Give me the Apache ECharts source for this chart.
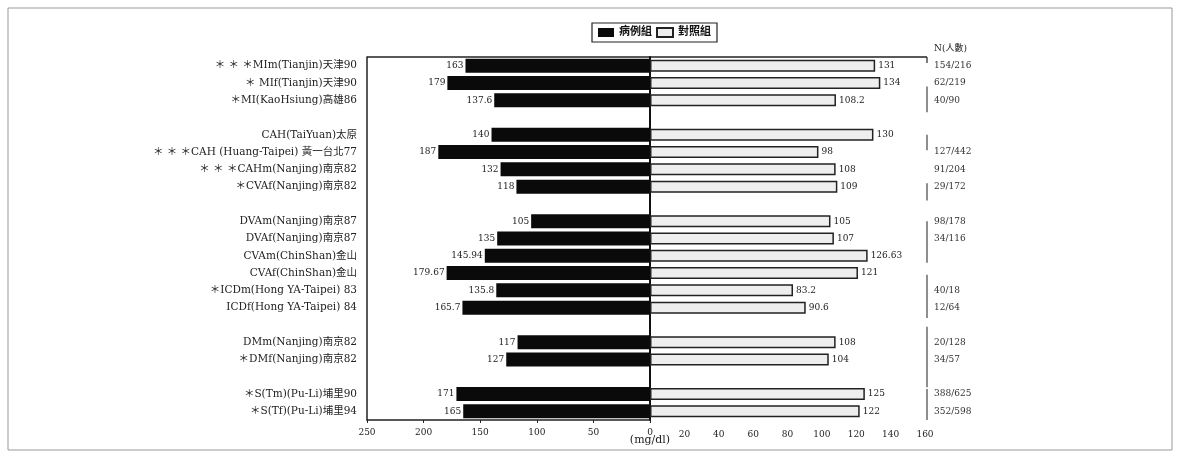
<!DOCTYPE html>
<html>
<head>
<meta charset="utf-8">
<script src="https://cdn.jsdelivr.net/npm/echarts@6/dist/echarts.min.js"></script>
<style>html,body{margin:0;padding:0;background:#fff}#c{width:1180px;height:455px}</style>
</head>
<body>
<div id="c"></div>
<script>
// ---- data ----
var categories = [
  '＊ ＊ ＊MIm(Tianjin)天津90', '＊ MIf(Tianjin)天津90', '＊MI(KaoHsiung)高雄86', '',
  'CAH(TaiYuan)太原', '＊ ＊ ＊CAH (Huang-Taipei) 黃一台北77', '＊ ＊ ＊CAHm(Nanjing)南京82', '＊CVAf(Nanjing)南京82', '',
  'DVAm(Nanjing)南京87', 'DVAf(Nanjing)南京87', 'CVAm(ChinShan)金山', 'CVAf(ChinShan)金山',
  '＊ICDm(Hong YA-Taipei) 83', 'ICDf(Hong YA-Taipei) 84', '',
  'DMm(Nanjing)南京82', '＊DMf(Nanjing)南京82', '',
  '＊S(Tm)(Pu-Li)埔里90', '＊S(Tf)(Pu-Li)埔里94'
];
var caseValues = [163, 179, 137.6, null, 140, 187, 132, 118, null, 105, 135, 145.94, 179.67, 135.8, 165.7, null, 117, 127, null, 171, 165];
var controlValues = [131, 134, 108.2, null, 130, 98, 108, 109, null, 105, 107, 126.63, 121, 83.2, 90.6, null, 108, 104, null, 125, 122];
var nLabels = ['154/216', '62/219', '40/90', '', '', '127/442', '91/204', '29/172', '', '98/178', '34/116', '', '', '40/18', '12/64', '', '20/128', '34/57', '', '388/625', '352/598'];
var leftTicks = [0, 50, 100, 150, 200, 250];
var rightTicks = [0, 20, 40, 60, 80, 100, 120, 140, 160];
var seriesNames = ['病例組', '對照組'];

// ---- layout ----
var L = 367, M = 650, R = 925, T = 57, B = 420;
var slotH = (B - T) / categories.length;
var braceSegs = [[1.2, 2.7], [4, 4.9], [6.8, 7.8], [9, 11.4], [12.1, 14.6], [15.1, 18.6], [18.7, 20.5]];
var FONT = '"DejaVu Serif", "Liberation Serif", "Noto Sans CJK TC", serif';

var chart = echarts.init(document.getElementById('c'));
var graphics = [
  {type: 'rect', shape: {x: 8, y: 8, width: 1164, height: 442}, style: {fill: 'none', stroke: '#999', lineWidth: 1}},
  {type: 'line', shape: {x1: L, y1: T, x2: R + 2, y2: T}, style: {stroke: '#222', lineWidth: 1.5}},
  {type: 'line', shape: {x1: R + 2, y1: T, x2: R + 2, y2: T + 6}, style: {stroke: '#222', lineWidth: 1.2}},
  {type: 'text', x: M, y: 435, style: {text: '(mg/dl)', font: '11px ' + FONT, fill: '#222', textAlign: 'center'}},
  {type: 'text', x: 934, y: 44, style: {text: 'N(人數)', font: '9px ' + FONT, fill: '#222', textAlign: 'left'}}
];
braceSegs.forEach(function (s) {
  graphics.push({type: 'line', shape: {x1: R + 2, y1: T + slotH * (s[0] + 0.5), x2: R + 2, y2: T + slotH * (s[1] + 0.5)}, style: {stroke: '#444', lineWidth: 1.2}});
});

chart.setOption({
  animation: false,
  textStyle: {fontFamily: FONT},
  legend: {
    top: 23, left: 592, data: seriesNames, icon: 'rect',
    borderColor: '#222', borderWidth: 1.2, padding: [4, 6],
    itemWidth: 16, itemHeight: 9, itemGap: 4,
    textStyle: {fontSize: 11, color: '#111', fontFamily: FONT, fontWeight: 'bold'}
  },
  grid: [
    {left: L, right: 1180 - M, top: T, bottom: 455 - B},
    {left: M, right: 1180 - R, top: T, bottom: 455 - B}
  ],
  xAxis: [
    {gridIndex: 0, type: 'value', inverse: true, min: 0, max: 250, interval: 50,
     axisLine: {show: true, lineStyle: {color: '#222', width: 1.5}},
     axisTick: {show: true, length: 3, lineStyle: {color: '#222'}},
     splitLine: {show: false},
     axisLabel: {fontSize: 9, color: '#222', margin: 8, fontFamily: FONT}},
    {gridIndex: 1, type: 'value', min: 0, max: 160, interval: 20,
     axisLine: {show: false}, axisTick: {show: false}, splitLine: {show: false},
     axisLabel: {fontSize: 9, color: '#222', margin: 10, fontFamily: FONT,
                 formatter: function (v) { return v === 0 ? '' : v; }}}
  ],
  yAxis: [
    {gridIndex: 0, type: 'category', data: categories, inverse: true, position: 'left',
     axisLine: {show: true, onZero: false, lineStyle: {color: '#222', width: 1.5}},
     axisTick: {show: false},
     axisLabel: {fontSize: 10.5, color: '#222', margin: 10, fontFamily: FONT, interval: 0}},
    {gridIndex: 1, type: 'category', data: categories, inverse: true, position: 'left',
     axisLine: {show: true, lineStyle: {color: '#111', width: 2}},
     axisTick: {show: false}, axisLabel: {show: false}},
    {gridIndex: 1, type: 'category', data: nLabels, inverse: true, position: 'right',
     axisLine: {show: false}, axisTick: {show: false},
     axisLabel: {fontSize: 9, color: '#333', margin: 9, fontFamily: FONT, interval: 0}}
  ],
  series: [
    {name: seriesNames[0], type: 'bar', xAxisIndex: 0, yAxisIndex: 0, data: caseValues,
     barWidth: 14, itemStyle: {color: '#0a0a0a'},
     label: {show: true, position: 'left', distance: 2, fontSize: 9, color: '#222', fontFamily: FONT}},
    {name: seriesNames[1], type: 'bar', xAxisIndex: 1, yAxisIndex: 1, data: controlValues,
     barWidth: 12, itemStyle: {color: '#eeeeee', borderColor: '#222', borderWidth: 1.5},
     label: {show: true, position: 'right', distance: 3, fontSize: 9, color: '#222', fontFamily: FONT}}
  ],
  graphic: graphics
});
</script>
</body>
</html>
